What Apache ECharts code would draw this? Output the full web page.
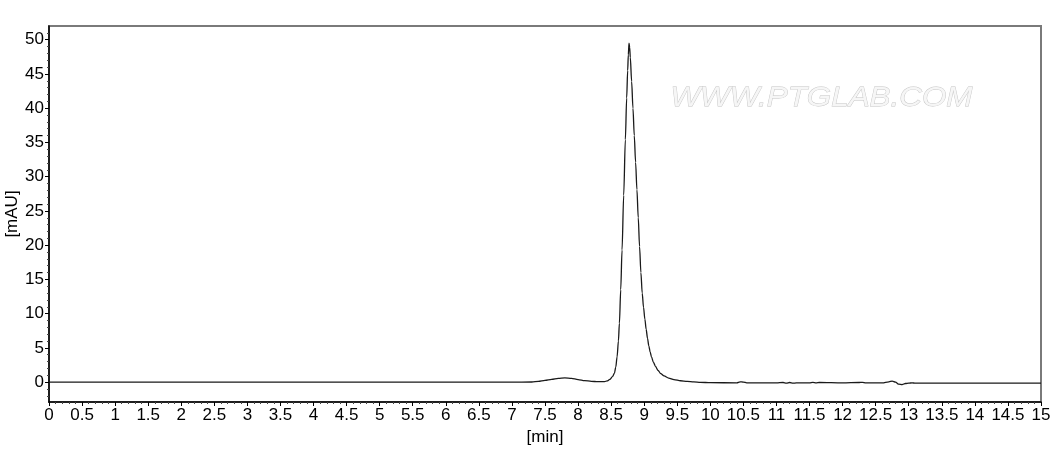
<!DOCTYPE html>
<html>
<head>
<meta charset="utf-8">
<script src="https://cdn.jsdelivr.net/npm/echarts@6/dist/echarts.min.js"></script>
<style>
  html, body { margin: 0; padding: 0; background: #fff; }
  #chart { width: 1059px; height: 449px; }
</style>
</head>
<body>
<div id="chart"></div>
<script>
// retention time [min]
const timeMin = [0, 1, 2, 3, 4, 5, 6, 7, 7.3, 7.4, 7.5, 7.6, 7.7, 7.8, 7.9, 8.0, 8.1, 8.2, 8.3,
  8.4, 8.44, 8.48, 8.52, 8.55, 8.57, 8.59, 8.61, 8.625, 8.645, 8.665, 8.69, 8.715, 8.735, 8.75, 8.76, 8.77,
  8.78, 8.79, 8.81, 8.83, 8.85, 8.87, 8.89, 8.91, 8.93, 8.95, 8.97, 8.99, 9.01, 9.03, 9.05, 9.07, 9.09,
  9.11, 9.14, 9.17, 9.21, 9.25, 9.3, 9.37, 9.45, 9.55, 9.65, 9.75, 9.85, 10.0, 10.4, 10.45, 10.5, 10.55, 10.6,
  11.0, 11.1, 11.15, 11.2, 11.25, 11.3, 11.5, 11.55, 11.6, 11.65, 12.0, 12.25, 12.3, 12.35, 12.6,
  12.7, 12.75, 12.8, 12.85, 12.9, 12.95, 13.0, 13.05, 13.1, 13.5, 14, 14.5, 15];
// signal [mAU]
const signalMAU = [0, 0, 0, 0, 0, 0, 0, 0, 0.02, 0.1, 0.25, 0.4, 0.55, 0.63, 0.55, 0.38, 0.22, 0.12, 0.07,
  0.08, 0.18, 0.4, 0.8, 1.3, 2.2, 3.7, 6.0, 8.6, 13.5, 19.3, 27.3, 35.4, 41.5, 45.5, 47.8, 49.5,
  48.9, 47.4, 43.9, 40.0, 36.0, 32.1, 28.1, 24.0, 19.8, 16.0, 13.0, 10.9, 9.2, 7.7, 6.4, 5.3, 4.4,
  3.7, 2.9, 2.3, 1.7, 1.25, 0.9, 0.6, 0.38, 0.2, 0.1, 0.03, -0.02, -0.08, -0.1, 0.05, 0.0, -0.1, -0.12,
  -0.12, -0.05, -0.15, -0.05, -0.15, -0.12, -0.12, -0.02, -0.12, -0.05, -0.12, -0.05, -0.02, -0.1, -0.1,
  0.05, 0.15, 0.0, -0.3, -0.35, -0.2, -0.15, -0.1, -0.15, -0.15, -0.15, -0.15, -0.15];

const yMajorTicks = [0, 5, 10, 15, 20, 25, 30, 35, 40, 45, 50];
const yMinorTicks = [-2, -1, 1, 2, 3, 4, 6, 7, 8, 9, 11, 12, 13, 14, 16, 17, 18, 19, 21, 22, 23, 24,
  26, 27, 28, 29, 31, 32, 33, 34, 36, 37, 38, 39, 41, 42, 43, 44, 46, 47, 48, 49, 51];

const points = timeMin.map((t, i) => [t, signalMAU[i]]);

const chart = echarts.init(document.getElementById('chart'));
const font = 'Liberation Sans, Arial, sans-serif';

chart.setOption({
  animation: false,
  grid: {
    left: 49, right: 18, top: 26, bottom: 47, containLabel: false, outerBoundsMode: 'none',
    show: true, borderColor: '#7a7a7a', borderWidth: 2
  },
  xAxis: {
    type: 'value', min: 0, max: 15, interval: 0.5,
    name: '[min]', nameLocation: 'middle', nameGap: 26,
    nameTextStyle: {fontFamily: font, fontSize: 17, color: '#000'},
    axisLine: {onZero: false, lineStyle: {color: '#000', width: 1.5}},
    axisTick: {length: 4, lineStyle: {color: '#000'}},
    minorTick: {show: true, splitNumber: 5, length: 2, lineStyle: {color: '#444'}},
    axisLabel: {fontFamily: font, fontSize: 17, color: '#000', margin: 5},
    splitLine: {show: false}
  },
  yAxis: [{
    type: 'value', min: -2.9, max: 52, position: 'left',
    name: '[mAU]', nameLocation: 'middle', nameGap: 28, nameMoveOverlap: false,
    nameTextStyle: {fontFamily: font, fontSize: 17, color: '#000'},
    axisLine: {show: true, onZero: false, lineStyle: {color: '#000', width: 1.5}},
    axisTick: {show: true, length: 4, customValues: yMajorTicks, lineStyle: {color: '#000'}},
    axisLabel: {fontFamily: font, fontSize: 17, color: '#000', margin: 5, customValues: yMajorTicks},
    splitLine: {show: false}
  }, {
    type: 'value', min: -2.9, max: 52, position: 'left', offset: 0,
    axisLine: {show: false, onZero: false},
    axisTick: {show: true, length: 2, customValues: yMinorTicks, lineStyle: {color: '#444'}},
    axisLabel: {show: false},
    splitLine: {show: false}
  }],
  graphic: [{
    type: 'text', left: 670, top: 84, scaleX: 1.12, silent: true,
    style: {
      text: 'WWW.PTGLAB.COM', fontFamily: font, fontSize: 28, fontStyle: 'italic',
      fill: '#f6f6f6', stroke: '#c4c4c4', lineWidth: 0.8,
      shadowColor: 'rgba(0,0,0,0.25)', shadowOffsetX: 1, shadowOffsetY: 1, shadowBlur: 1
    }
  }],
  series: [{
    type: 'line', data: points, yAxisIndex: 0, showSymbol: false,
    smooth: 0.3, smoothMonotone: 'x',
    lineStyle: {color: '#1a1a1a', width: 1.3}
  }]
});
</script>
</body>
</html>
